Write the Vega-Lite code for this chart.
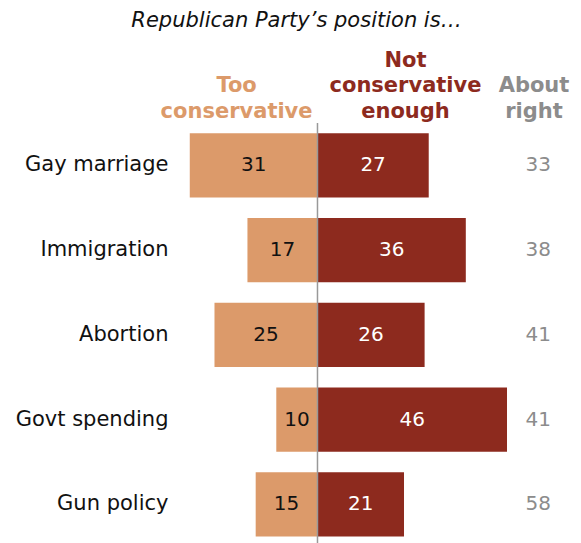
{
  "$schema": "https://vega.github.io/schema/vega-lite/v6.json",
  "width": 581,
  "height": 420,
  "autosize": {"type": "none"},
  "padding": {"top": 123, "left": 0, "right": 0, "bottom": 0},
  "background": "white",
  "config": {"view": {"stroke": null}, "text": {"font": "DejaVu Sans"}},
  "title": {
    "text": "Republican Party’s position is…",
    "font": "DejaVu Sans",
    "fontStyle": "italic",
    "fontWeight": "normal",
    "fontSize": 21,
    "color": "#111111",
    "frame": "group",
    "anchor": "middle",
    "baseline": "alphabetic",
    "offset": 2,
    "dx": 6
  },
  "data": {
    "values": [
      {"issue": "Gay marriage", "too": 31, "notenough": 27, "about": 33},
      {"issue": "Immigration", "too": 17, "notenough": 36, "about": 38},
      {"issue": "Abortion", "too": 25, "notenough": 26, "about": 41},
      {"issue": "Govt spending", "too": 10, "notenough": 46, "about": 41},
      {"issue": "Gun policy", "too": 15, "notenough": 21, "about": 58}
    ]
  },
  "transform": [
    {"calculate": "-datum.too", "as": "tooNeg"},
    {"calculate": "-datum.too / 2", "as": "tooMid"},
    {"calculate": "datum.notenough / 2", "as": "neMid"}
  ],
  "layer": [
    {
      "mark": {"type": "bar", "color": "#DC9A6A"},
      "encoding": {
        "y": {
          "field": "issue",
          "type": "nominal",
          "sort": null,
          "axis": null,
          "scale": {
            "domain": ["Gay marriage", "Immigration", "Abortion", "Govt spending", "Gun policy"],
            "range": [0, 423.75],
            "paddingInner": 0.239,
            "paddingOuter": 0.1195
          }
        },
        "x": {"field": "tooNeg", "type": "quantitative", "axis": null, "scale": {"domain": [-77.06, 63.96], "nice": false, "zero": false}},
        "x2": {"datum": 0}
      }
    },
    {
      "mark": {"type": "bar", "color": "#8D2A1E"},
      "encoding": {
        "y": {"field": "issue", "type": "nominal", "sort": null},
        "x": {"field": "notenough", "type": "quantitative"},
        "x2": {"datum": 0}
      }
    },
    {
      "mark": {"type": "text", "fontSize": 20, "color": "#111111", "baseline": "middle", "align": "center"},
      "encoding": {
        "y": {"field": "issue", "type": "nominal", "sort": null},
        "x": {"field": "tooMid", "type": "quantitative"},
        "text": {"field": "too", "type": "quantitative"}
      }
    },
    {
      "mark": {"type": "text", "fontSize": 20, "color": "#ffffff", "baseline": "middle", "align": "center"},
      "encoding": {
        "y": {"field": "issue", "type": "nominal", "sort": null},
        "x": {"field": "neMid", "type": "quantitative"},
        "text": {"field": "notenough", "type": "quantitative"}
      }
    },
    {
      "mark": {"type": "text", "fontSize": 20, "color": "#8C8C8C", "baseline": "middle", "align": "center"},
      "encoding": {
        "y": {"field": "issue", "type": "nominal", "sort": null},
        "x": {"datum": 53.6, "type": "quantitative"},
        "text": {"field": "about", "type": "quantitative"}
      }
    },
    {
      "mark": {"type": "text", "fontSize": 21, "color": "#111111", "baseline": "middle", "align": "right"},
      "encoding": {
        "y": {"field": "issue", "type": "nominal", "sort": null},
        "x": {"datum": -36.17, "type": "quantitative"},
        "text": {"field": "issue", "type": "nominal"}
      }
    },
    {
      "data": {"values": [{"z": 0}]},
      "mark": {"type": "rule", "color": "#999999", "strokeWidth": 1.5},
      "encoding": {"x": {"field": "z", "type": "quantitative"}}
    },
    {
      "data": {"values": [{"y": "Gay marriage"}]},
      "mark": {"type": "text", "text": ["Too", "conservative"], "fontSize": 21, "fontWeight": "bold", "color": "#DC9A6A", "baseline": "alphabetic", "align": "center", "lineHeight": 25.7, "dy": -41.1},
      "encoding": {
        "x": {"datum": -19.64, "type": "quantitative"},
        "y": {"field": "y", "type": "nominal", "bandPosition": 0}
      }
    },
    {
      "data": {"values": [{"y": "Gay marriage"}]},
      "mark": {"type": "text", "text": ["Not", "conservative", "enough"], "fontSize": 21, "fontWeight": "bold", "color": "#8D2A1E", "baseline": "alphabetic", "align": "center", "lineHeight": 25.7, "dy": -66.4},
      "encoding": {
        "x": {"datum": 21.36, "type": "quantitative"},
        "y": {"field": "y", "type": "nominal", "bandPosition": 0}
      }
    },
    {
      "data": {"values": [{"y": "Gay marriage"}]},
      "mark": {"type": "text", "text": ["About", "right"], "fontSize": 21, "fontWeight": "bold", "color": "#8C8C8C", "baseline": "alphabetic", "align": "center", "lineHeight": 25.7, "dy": -41.1},
      "encoding": {
        "x": {"datum": 52.55, "type": "quantitative"},
        "y": {"field": "y", "type": "nominal", "bandPosition": 0}
      }
    }
  ]
}
